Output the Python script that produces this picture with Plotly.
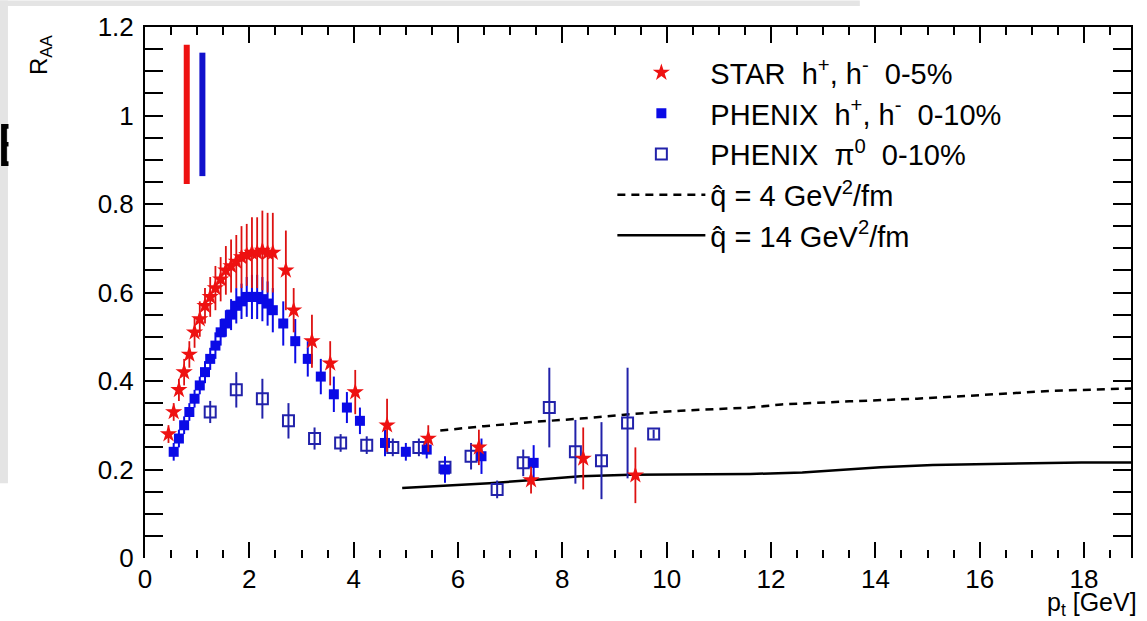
import plotly.graph_objects as go

# ---------------- data ----------------
star_pt = [0.45, 0.55, 0.65, 0.75, 0.85, 0.95, 1.05, 1.15, 1.25, 1.35, 1.45,
           1.55, 1.65, 1.75, 1.85, 1.95, 2.05, 2.15, 2.25, 2.35, 2.45,
           2.70, 2.85, 3.20, 3.55, 4.03, 4.64, 5.43, 6.40, 7.40, 8.40, 9.40]
star_raa = [0.28, 0.33, 0.38, 0.42, 0.46, 0.51, 0.54, 0.57, 0.59, 0.61, 0.63,
            0.65, 0.66, 0.67, 0.68, 0.685, 0.69, 0.69, 0.695, 0.69, 0.69,
            0.65, 0.56, 0.49, 0.44, 0.375, 0.30, 0.27, 0.25, 0.176, 0.225, 0.187]
star_err = [0.02, 0.02, 0.025, 0.03, 0.03, 0.035, 0.04, 0.04, 0.045, 0.05, 0.05,
            0.055, 0.06, 0.06, 0.07, 0.07, 0.08, 0.08, 0.09, 0.09, 0.09,
            0.09, 0.05, 0.06, 0.05, 0.05, 0.06, 0.03, 0.04, 0.03, 0.07, 0.063]

phx_h_pt = [0.55, 0.65, 0.75, 0.85, 0.95, 1.05, 1.15, 1.25, 1.35, 1.45, 1.55,
            1.65, 1.75, 1.85, 1.95, 2.05, 2.15, 2.25, 2.35, 2.45,
            2.65, 2.88, 3.12, 3.37, 3.62, 3.87, 4.12, 4.60, 5.00, 5.40, 5.75,
            6.45, 7.45]
phx_h_raa = [0.24, 0.27, 0.30, 0.33, 0.36, 0.39, 0.42, 0.45, 0.48, 0.51, 0.53,
             0.55, 0.57, 0.58, 0.59, 0.59, 0.59, 0.585, 0.575, 0.56,
             0.53, 0.49, 0.45, 0.41, 0.37, 0.34, 0.31, 0.26, 0.24, 0.245, 0.20,
             0.23, 0.215]
phx_h_err = [0.02, 0.02, 0.02, 0.02, 0.02, 0.02, 0.025, 0.025, 0.03, 0.03, 0.03,
             0.035, 0.04, 0.04, 0.045, 0.05, 0.05, 0.05, 0.05, 0.05,
             0.05, 0.05, 0.04, 0.04, 0.04, 0.035, 0.03, 0.03, 0.02, 0.02, 0.03,
             0.04, 0.04]

phx_pi0_pt = [1.25, 1.75, 2.25, 2.75, 3.25, 3.75, 4.25, 4.75, 5.25, 5.75, 6.25,
              6.75, 7.25, 7.75, 8.25, 8.75, 9.25, 9.75]
phx_pi0_raa = [0.33, 0.38, 0.36, 0.31, 0.27, 0.26, 0.255, 0.25, 0.25, 0.205, 0.23,
               0.155, 0.215, 0.34, 0.24, 0.22, 0.305, 0.28]
phx_pi0_err = [0.025, 0.04, 0.045, 0.04, 0.025, 0.02, 0.02, 0.02, 0.02, 0.02, 0.03,
               0.02, 0.03, 0.09, 0.072, 0.087, 0.125, 0.01]

q4_pt = [5.66, 6.5, 7.5, 8.35, 9.3, 10.27, 11.6, 12.2, 13.5, 14.8, 16.0, 17.4, 18.9]
q4_raa = [0.288, 0.298, 0.308, 0.315, 0.325, 0.333, 0.340, 0.347, 0.354, 0.360,
          0.368, 0.378, 0.383]

q14_pt = [4.93, 5.8, 6.6, 7.5, 8.35, 9.3, 10.27, 11.6, 12.6, 13.4, 14.1, 15.1,
          16.0, 17.0, 17.95, 18.9]
q14_raa = [0.158, 0.163, 0.169, 0.177, 0.185, 0.188, 0.189, 0.190, 0.193, 0.199,
           0.205, 0.210, 0.212, 0.214, 0.216, 0.216]

norm_x = [0.8, 1.1]
norm_lo = [0.845, 0.863]
norm_hi = [1.16, 1.142]
norm_colors = ["#ee1111", "#1111cc"]

x_ticks = [0, 2, 4, 6, 8, 10, 12, 14, 16, 18]
y_ticks = [0, 0.2, 0.4, 0.6, 0.8, 1.0, 1.2]

legend_names = [
    "STAR  h<sup>+</sup>, h<sup>-</sup>  0-5%",
    "PHENIX  h<sup>+</sup>, h<sup>-</sup>  0-10%",
    "PHENIX  \u03c0<sup>0</sup>  0-10%",
    "q\u0302 = 4 GeV<sup>2</sup>/fm",
    "q\u0302 = 14 GeV<sup>2</sup>/fm",
]

FONT = "Liberation Sans, Arial, Helvetica, sans-serif"

# ---------------- figure ----------------
fig = go.Figure()

for xv, lo, hi, col in zip(norm_x, norm_lo, norm_hi, norm_colors):
    fig.add_trace(go.Scatter(x=[xv, xv], y=[lo, hi], mode="lines",
                             line=dict(color=col, width=6),
                             showlegend=False, hoverinfo="skip"))

fig.add_trace(go.Scatter(
    x=q4_pt, y=q4_raa, mode="lines", name=legend_names[3], legendrank=4,
    line=dict(color="black", width=2.5, dash="8px,6px")))
fig.add_trace(go.Scatter(
    x=q14_pt, y=q14_raa, mode="lines", name=legend_names[4], legendrank=5,
    line=dict(color="black", width=2.5)))

fig.add_trace(go.Scatter(
    x=phx_pi0_pt, y=phx_pi0_raa, mode="markers", name=legend_names[2], legendrank=3,
    marker=dict(symbol="square-open", size=11, color="#2222aa",
                line=dict(width=2, color="#2222aa")),
    error_y=dict(type="data", array=phx_pi0_err, color="#2222aa",
                 thickness=2, width=0)))
fig.add_trace(go.Scatter(
    x=phx_h_pt, y=phx_h_raa, mode="markers", name=legend_names[1], legendrank=2,
    marker=dict(symbol="square", size=10, color="#0a0ae6"),
    error_y=dict(type="data", array=phx_h_err, color="#0a0ae6",
                 thickness=2, width=0)))
fig.add_trace(go.Scatter(
    x=star_pt, y=star_raa, mode="markers", name=legend_names[0], legendrank=1,
    marker=dict(symbol="star", size=13, color="#ee1111"),
    error_y=dict(type="data", array=star_err, color="#dd1111",
                 thickness=1.8, width=0)))

# carrier for the top (mirrored) axis
fig.add_trace(go.Scatter(x=[None], y=[None], xaxis="x2", showlegend=False,
                         hoverinfo="skip"))

axis_common = dict(showgrid=False, zeroline=False, ticks="inside",
                   tickcolor="black", tickwidth=2)

fig.update_layout(
    width=1147, height=621,
    margin=dict(l=145, r=16, t=25, b=63),
    paper_bgcolor="white", plot_bgcolor="white",
    font=dict(family=FONT, color="black"),
    xaxis=dict(range=[0, 18.9], tickvals=x_ticks, ticklen=16, showline=False,
               tickfont=dict(size=26, family=FONT), ticklabelstandoff=3,
               minor=dict(dtick=0.5, tick0=0, ticks="inside", ticklen=8,
                          tickwidth=2, tickcolor="black"),
               **axis_common),
    xaxis2=dict(range=[0, 18.9], overlaying="x", side="top", matches="x",
                showticklabels=False, showline=True, linecolor="black",
                linewidth=2, tickvals=x_ticks, ticklen=16,
                minor=dict(dtick=0.5, tick0=0, ticks="inside", ticklen=8,
                           tickwidth=2, tickcolor="black"),
                **axis_common),
    yaxis=dict(range=[0, 1.2], tickvals=y_ticks, ticklen=18, showline=True,
               linecolor="black", linewidth=2, mirror="allticks",
               tickfont=dict(size=26, family=FONT), ticklabelstandoff=4,
               minor=dict(dtick=0.05, tick0=0, ticks="inside", ticklen=10,
                          tickwidth=2, tickcolor="black"),
               **axis_common),
    legend=dict(x=0.474, y=0.962, xanchor="left", yanchor="top",
                bgcolor="rgba(0,0,0,0)", borderwidth=0,
                font=dict(size=29, family=FONT), itemwidth=88,
                tracegroupgap=0, traceorder="normal"),
    showlegend=True,
)

# page frame artefacts (grey border strips)
grey = "#e4e4e4"
fig.add_shape(type="rect", xref="paper", yref="paper", layer="below",
              x0=-0.148, x1=-0.139, y0=0.1407, y1=1.05,
              fillcolor=grey, line=dict(width=0))
fig.add_shape(type="rect", xref="paper", yref="paper", layer="below",
              x0=-0.148, x1=0.725, y0=1.0394, y1=1.05,
              fillcolor=grey, line=dict(width=0))

fig.add_annotation(text="E", xref="paper", yref="paper",
                   x=-0.1531, y=0.7786, xanchor="left", yanchor="middle",
                   showarrow=False, font=dict(size=62, family=FONT, color="black"))
fig.add_annotation(text=" ", xref="paper", yref="paper",
                   x=-0.1389, y=0.7786, xanchor="left", yanchor="middle",
                   width=85, height=75, bgcolor="white", borderpad=0,
                   showarrow=False)

fig.add_annotation(text="R<sub>AA</sub>", xref="paper", yref="paper",
                   x=-0.1065, y=0.949, xanchor="center", yanchor="middle",
                   textangle=-90, showarrow=False,
                   font=dict(size=24, family=FONT))
fig.add_annotation(text="p<sub>t</sub> [GeV]", xref="paper", yref="paper",
                   x=1.008, y=-0.086, xanchor="right", yanchor="middle",
                   showarrow=False, font=dict(size=25, family=FONT))

fig.write_html("out.html",
               config={"displayModeBar": False},
               post_script="document.body.style.margin='0';"
                           "document.body.style.overflow='hidden';")
